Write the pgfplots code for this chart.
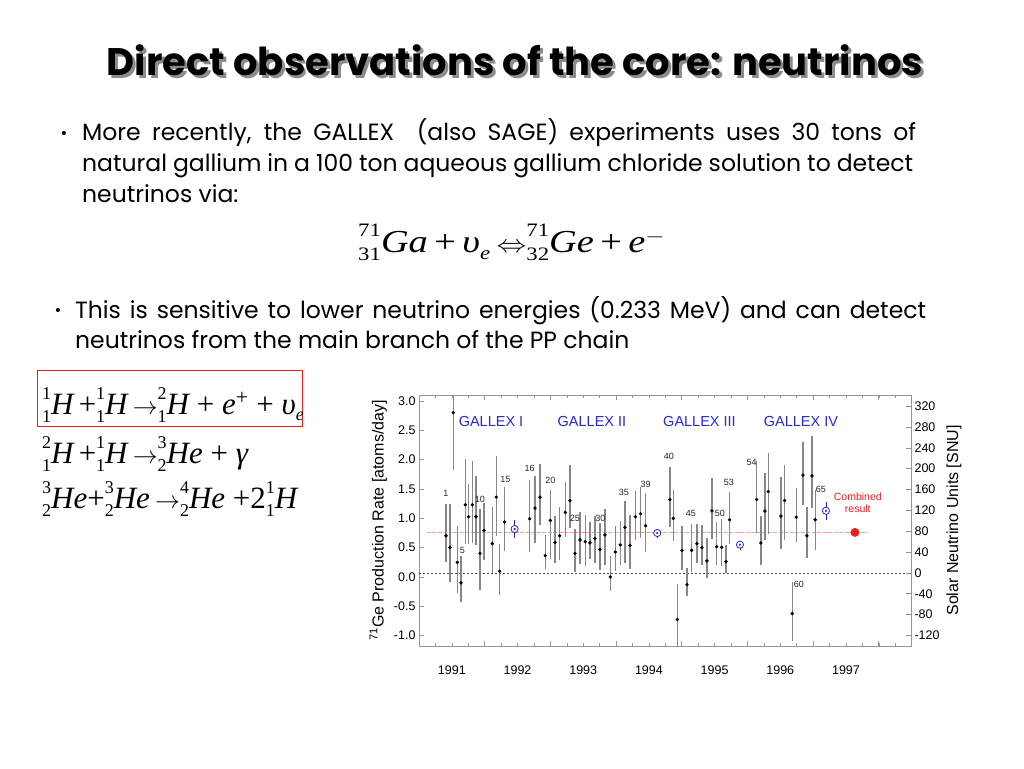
\documentclass[border=0pt]{standalone}
\usepackage{pgfplots}
\pgfplotsset{compat=1.18}
\usepackage{pgfplotstable}
\usepackage{fontspec}
\setmainfont{Poppins}
\newfontfamily\serif{Liberation Serif}
\newfontfamily\chart{Liberation Sans}

\definecolor{gbar}{RGB}{135,135,135}
\definecolor{gblue}{RGB}{40,40,215}
\definecolor{gred}{RGB}{235,30,30}
\definecolor{framec}{RGB}{150,150,150}
\definecolor{shadow}{RGB}{140,140,140}

% isotope prescripts: mass number over atomic number
\newlength\isoup \newlength\isodn
\def\ssize{18}
\newcommand\iso[2]{\setlength\isoup{0.47em}\setlength\isodn{-0.27em}{\fontsize{\ssize}{\ssize}\selectfont\upshape\ooalign{\hfil\raisebox{\isoup}{#1}\cr\hfil\raisebox{\isodn}{#2}\cr}}}
\newcommand\sub[1]{\raisebox{-0.22em}{\fontsize{\ssize}{\ssize}\selectfont #1}}

\newcommand\body{\fontsize{23.5}{26}\selectfont}
\newcommand\titletext{\resizebox{816pt}{!}{\bfseries Direct observations of the core: neutrinos}}

% GALLEX runs: time (yr), rate (atoms/day), upper and lower end of error bar
\pgfplotstableread{
x y hi lo
1991.411 0.700 1.245 0.247
1991.472 0.500 1.240 -0.087
1991.522 2.800 3.180 1.823
1991.583 0.247 0.871 -0.274
1991.639 -0.104 0.349 -0.422
1991.705 1.228 2.005 0.560
1991.756 1.024 1.580 0.560
1991.812 1.228 1.981 0.582
1991.868 1.024 1.721 0.536
1991.928 0.400 1.160 -0.223
1991.989 0.791 1.257 0.293
1992.116 0.565 1.189 0.066
1992.177 1.359 2.061 0.689
1992.228 0.094 0.560 -0.315
1992.304 0.934 1.539 0.434
1992.685 0.990 1.653 0.423
1992.766 1.172 1.721 0.577
1992.842 1.359 1.925 0.876
1992.923 0.361 0.706 0.134
1992.999 0.961 1.483 0.304
1993.070 0.587 1.029 0.236
1993.141 0.700 1.182 0.281
1993.227 1.097 1.624 0.672
1993.298 1.301 1.908 0.825
1993.374 0.400 0.815 0.083
1993.451 0.628 1.109 0.219
1993.531 0.599 1.053 0.179
1993.603 0.577 0.927 0.304
1993.679 0.650 1.041 0.236
1993.755 0.468 0.917 0.122
1993.831 0.713 1.155 0.207
1993.912 -0.002 0.349 -0.247
1993.988 0.423 0.871 0.105
1994.064 0.543 0.944 0.207
1994.135 0.842 1.296 0.236
1994.212 0.536 1.058 0.134
1994.293 1.024 1.466 0.633
1994.374 1.075 1.539 0.662
1994.450 0.871 1.427 0.423
1994.820 1.318 1.869 0.842
1994.871 0.995 1.483 0.604
1994.932 -0.728 -0.121 -1.182
1995.003 0.451 0.859 0.122
1995.079 -0.133 0.145 -0.332
1995.150 0.451 0.905 0.077
1995.231 0.565 0.905 0.236
1995.307 0.497 0.883 0.207
1995.384 0.270 0.662 -0.019
1995.460 1.126 1.682 0.650
1995.531 0.514 0.939 0.196
1995.607 0.502 0.985 0.179
1995.673 0.259 0.548 0.071
1995.729 0.973 1.454 0.565
1996.140 1.318 1.981 0.747
1996.205 0.577 1.041 0.207
1996.266 1.121 1.767 0.633
1996.317 1.454 2.107 0.735
1996.510 1.036 1.699 0.474
1996.566 1.301 1.903 0.633
1996.682 -0.626 -0.094 -1.097
1996.743 1.019 1.522 0.594
1996.845 1.733 2.304 1.228
1996.906 0.700 1.189 0.321
1996.982 1.721 2.401 1.172
1997.032 0.973 1.483 0.463
}\runs

% combined result of each GALLEX period
\pgfplotstableread{
x y hi lo
1992.456 0.815 0.961 0.655
1994.627 0.747 0.815 0.667
1995.886 0.548 0.616 0.463
1997.195 1.126 1.284 0.961
}\periods

\begin{document}
\begin{tikzpicture}
\path[use as bounding box, fill=white] (0pt,0pt) rectangle (1024pt,-768pt);

% title with its shadow, in one node
\node[anchor=base, text=black, inner sep=0] at (515pt,-75pt)
  {\makebox[0pt][l]{\hspace*{3pt}\raisebox{-3pt}{\textcolor{shadow}{\titletext}}}\titletext};

% bullets
\node[anchor=base, inner sep=0] at (64pt,-138pt) {\chart\fontsize{15}{15}\selectfont •};
\node[anchor=base west, inner sep=0] at (82pt,-140pt) {\body\makebox[834pt][s]{More recently, the GALLEX\ \ (also SAGE) experiments uses 30 tons of}};
\node[anchor=base west, inner sep=0] at (82pt,-171pt) {\body\makebox[831pt][s]{natural gallium in a 100 ton aqueous gallium chloride solution to detect}};
\node[anchor=base west, inner sep=0] at (82pt,-202pt) {\body neutrinos via:};

\node[anchor=base west, inner sep=0] at (358pt,-252pt) {\scalebox{1.2}[1]{\serif\itshape\fontsize{32}{32}\selectfont\def\ssize{19}%
 \iso{71}{31}Ga\,\upshape+\itshape\,υ\sub{e}\,$\Leftrightarrow$\iso{71}{32}Ge\,\upshape+\itshape\,e\textsuperscript{\upshape$-$}}};

\node[anchor=base, inner sep=0] at (58pt,-315pt) {\chart\fontsize{15}{15}\selectfont •};
\node[anchor=base west, inner sep=0] at (75pt,-318pt) {\body\makebox[851pt][s]{This is sensitive to lower neutrino energies (0.233 MeV) and can detect}};
\node[anchor=base west, inner sep=0] at (75pt,-348pt) {\body neutrinos from the main branch of the PP chain};

% pp chain
\draw[gred, line width=0.8pt] (37pt,-370pt) rectangle (302pt,-426pt);
\node[anchor=base west, inner sep=0] at (42pt,-414pt) {\serif\itshape\fontsize{31}{31}\selectfont\def\ssize{18}%
 \iso11H\,\upshape+\itshape\iso11H\,$\rightarrow$\iso21H\ \upshape+\itshape\ e\textsuperscript{\upshape+}\ \upshape+\itshape\ υ\sub{e}};
\node[anchor=base west, inner sep=0] at (42pt,-463pt) {\serif\itshape\fontsize{31}{31}\selectfont\def\ssize{18}%
 \iso21H\,\upshape+\itshape\iso11H\,$\rightarrow$\iso32He\ \upshape+\itshape\ γ};
\node[anchor=base west, inner sep=0] at (42pt,-508pt) {\serif\itshape\fontsize{31}{31}\selectfont\def\ssize{18}%
 \iso32He\upshape+\itshape\iso32He\,$\rightarrow$\iso42He\ \upshape+2\itshape\iso11H};

% GALLEX chart
\begin{axis}[
  at={(419pt,-646pt)}, anchor=south west,
  scale only axis, width=492pt, height=251pt,
  xmin=1991, xmax=1998.49, ymin=-1.18, ymax=3.10,
  axis line style={framec, line width=0.8pt},
  every tick/.style={framec, line width=0.6pt},
  tick align=inside,
  major tick length=5pt, minor tick length=3pt,
  xtick={1991,...,1998}, xticklabels={},
  minor xtick={1991,1991.25,...,1998.5},
  extra x ticks={1991.5,1992.5,...,1997.5},
  extra x tick labels={1991,1992,1993,1994,1995,1996,1997},
  extra x tick style={major tick length=0pt, xticklabel style={yshift=-16pt}},
  ytick={-1,-0.5,...,3},
  yticklabels={-1.0,-0.5,0.0,0.5,1.0,1.5,2.0,2.5,3.0},
  ytick pos=left,
  ticklabel style={font=\chart\fontsize{12.5}{14}\selectfont, text=black},
  ylabel={\textsuperscript{71}Ge Production Rate [atoms/day]},
  ylabel style={font=\chart\fontsize{16}{18}\selectfont},
]
\addplot[black!75, line width=0.5pt, dash pattern=on 2pt off 2pt] coordinates {(1991,0.066) (1998.49,0.066)};
\addplot[gred!45, line width=0.9pt, dash pattern=on 4pt off 1.5pt] coordinates {(1991.12,0.757) (1997.82,0.757)};

\addplot[only marks, mark=*, mark size=1.5pt, black,
  error bars/.cd, y dir=both, y explicit, error mark=none,
  error bar style={gbar, line width=1.2pt}]
  table[x=x, y=y, y error plus expr=\thisrow{hi}-\thisrow{y}, y error minus expr=\thisrow{y}-\thisrow{lo}] {\runs};

\addplot[only marks, mark=*, mark size=3.6pt, mark options={draw=gblue, fill=white, line width=0.8pt},
  error bars/.cd, y dir=both, y explicit, error mark=none,
  error bar style={gblue, line width=0.8pt}]
  table[x=x, y=y, y error plus expr=\thisrow{hi}-\thisrow{y}, y error minus expr=\thisrow{y}-\thisrow{lo}] {\periods};
\addplot[only marks, mark=*, mark size=0.9pt, gblue] table[x=x, y=y] {\periods};

\addplot[only marks, mark=*, mark size=4.2pt, gred] coordinates {(1997.636,0.757)};

\begin{scope}[every node/.style={font=\chart\fontsize{14.5}{16}\selectfont, text=gblue}]
\node at (axis cs:1992.096,2.656) {GALLEX I};
\node at (axis cs:1993.633,2.656) {GALLEX II};
\node at (axis cs:1995.270,2.656) {GALLEX III};
\node at (axis cs:1996.814,2.656) {GALLEX IV};
\end{scope}
\node[font=\chart\fontsize{10.5}{12}\selectfont, text=gred, align=center] at (axis cs:1997.68,1.262) {Combined\\result};

\begin{scope}[every node/.style={font=\chart\fontsize{9}{10}\selectfont, text=black!85, inner sep=0}]
\node at (axis cs:1991.410,1.415) {1};
\node at (axis cs:1991.660,0.451) {5};
\node at (axis cs:1991.928,1.313) {10};
\node at (axis cs:1992.314,1.653) {15};
\node at (axis cs:1992.685,1.845) {16};
\node at (axis cs:1992.999,1.641) {20};
\node at (axis cs:1993.374,0.990) {25};
\node at (axis cs:1993.760,0.990) {30};
\node at (axis cs:1994.120,1.444) {35};
\node at (axis cs:1994.450,1.573) {39};
\node at (axis cs:1994.805,2.049) {40};
\node at (axis cs:1995.140,1.075) {45};
\node at (axis cs:1995.580,1.075) {50};
\node at (axis cs:1995.718,1.614) {53};
\node at (axis cs:1996.064,1.947) {54};
\node at (axis cs:1996.784,-0.133) {60};
\node at (axis cs:1997.119,1.495) {65};
\end{scope}
\end{axis}

% right scale in SNU
\begin{axis}[
  at={(419pt,-646pt)}, anchor=south west,
  scale only axis, width=492pt, height=251pt,
  xmin=1991, xmax=1998.49, ymin=-140.2, ymax=341.3,
  axis line style={draw=none},
  xtick=\empty,
  every tick/.style={framec, line width=0.6pt},
  tick align=inside, major tick length=5pt,
  ytick={-120,-80,...,320},
  yticklabels={-120,-80,-40,0,40,80,120,160,200,240,280,320},
  ytick pos=right, yticklabel pos=right,
  ticklabel style={font=\chart\fontsize{12.5}{14}\selectfont, text=black},
  ylabel={Solar Neutrino Units [SNU]},
  ylabel style={font=\chart\fontsize{16}{18}\selectfont},
]
\addplot[draw=none] coordinates {(1991,0) (1998,0)};
\end{axis}
\end{tikzpicture}
\end{document}
